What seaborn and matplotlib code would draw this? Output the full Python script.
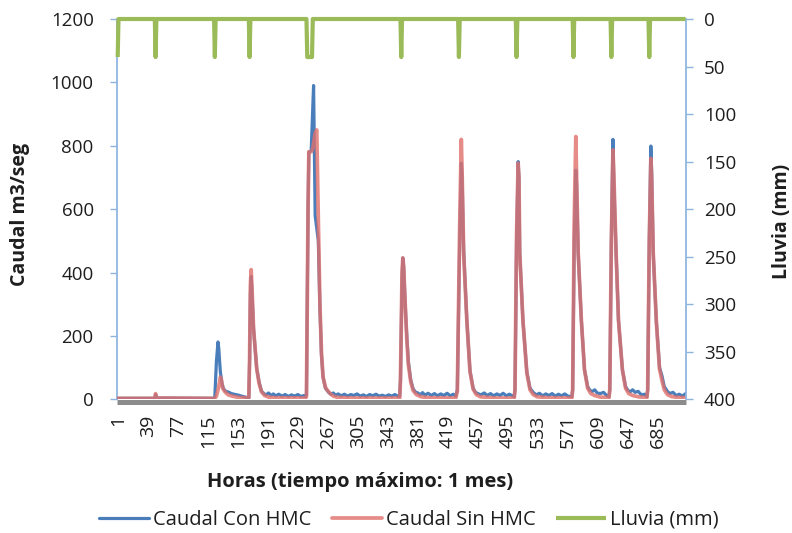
import numpy as np
import pandas as pd
import matplotlib
matplotlib.use("Agg")
import matplotlib.pyplot as plt
import seaborn as sns

# ---------------- data ----------------
n_hours = 720
tick_labels = list(range(1, 720, 38))  # 1, 39, ..., 685

# Caudal Con HMC (blue) : hour / value vertices
con_hours = [1, 48, 49, 50, 123, 124, 126, 128, 129, 130, 131, 133, 135, 138, 141, 145, 150, 154, 158, 164, 167,
             168, 169, 170, 171, 173, 177, 180, 183, 186, 189, 192, 195, 198, 201, 205, 209, 213, 217, 221, 225,
             229, 233, 237, 239,
             240, 242, 243, 246, 249, 251, 253, 255, 257, 259, 261, 264, 268, 271, 274, 277, 280, 284, 288, 292,
             296, 300, 304, 308, 312, 316, 320, 324, 328, 332, 336, 340, 344, 348, 352, 356, 358,
             359, 361, 362, 363, 365, 367, 369, 372, 375, 378, 381, 384, 387, 390, 394, 398, 402, 406, 410, 414,
             418, 422, 426, 429,
             431, 434, 436, 437, 439, 443, 447, 451, 454, 457, 461, 465, 469, 473, 477, 481, 485, 489, 493, 497,
             501, 503,
             504, 506, 508, 509, 510, 514, 519, 523, 527, 531, 535, 539, 543, 547, 551, 555, 559, 563, 567, 571, 576,
             577, 579, 581, 582, 584, 588, 592, 596, 599, 602, 605, 608, 612, 616, 620, 623,
             624, 626, 628, 629, 632, 635, 640, 644, 647, 650, 653, 656, 660, 664, 668, 671,
             672, 674, 676, 677, 679, 683, 687, 690, 693, 697, 700, 704, 708, 712, 716, 720]
con_values = [3, 3, 15, 4, 3, 10, 120, 181, 160, 120, 86, 50, 33, 25, 23, 18, 15, 13, 10, 6, 5,
              120, 330, 388, 340, 223, 97, 55, 26, 18, 14, 20, 12, 17, 11, 16, 10, 15, 9, 14, 10,
              15, 9, 12, 8,
              15, 600, 780, 785, 990, 580, 540, 500, 290, 140, 70, 35, 22, 16, 20, 12, 17, 11, 16, 10,
              15, 12, 17, 10, 14, 9, 15, 11, 16, 10, 13, 9, 14, 10, 15, 9, 10,
              60, 380, 446, 420, 300, 200, 118, 61, 33, 23, 20, 14, 21, 13, 19, 12, 18, 11, 17, 12,
              19, 11, 16, 10,
              30, 500, 745, 700, 470, 250, 90, 35, 22, 18, 14, 20, 12, 18, 11, 17, 12, 19, 11, 16,
              10, 8,
              30, 500, 750, 700, 462, 250, 86, 35, 22, 14, 19, 11, 17, 12, 18, 10, 16, 11, 17, 10, 8,
              30, 500, 723, 680, 462, 250, 93, 40, 28, 25, 30, 20, 18, 22, 12, 8,
              30, 500, 820, 700, 462, 250, 93, 40, 28, 24, 30, 22, 25, 14, 16, 8,
              30, 500, 799, 720, 462, 243, 100, 75, 40, 25, 18, 22, 12, 16, 10, 18]

# Caudal Sin HMC (red) : hour / value vertices
sin_hours = [1, 48, 49, 50, 124, 126, 129, 131, 132, 134, 137, 141, 146, 154, 167,
             168, 169, 170, 171, 173, 177, 180, 183, 187, 192, 200, 239,
             240, 242, 243, 246, 248, 251, 253, 255, 257, 259, 261, 264, 266, 270, 274, 280, 300, 358,
             359, 361, 362, 363, 365, 367, 369, 372, 375, 379, 385, 395, 429,
             431, 434, 436, 437, 439, 443, 447, 451, 455, 460, 470, 480, 503,
             504, 506, 508, 509, 510, 514, 519, 523, 527, 532, 545, 576,
             577, 579, 581, 582, 584, 588, 592, 596, 600, 605, 612, 623,
             624, 626, 628, 629, 632, 635, 640, 644, 648, 653, 660, 671,
             672, 674, 676, 677, 679, 683, 687, 690, 693, 697, 702, 710, 720]
sin_values = [3, 3, 18, 4, 3, 10, 40, 70, 65, 35, 23, 14, 10, 6, 4,
              130, 360, 409, 350, 223, 97, 50, 24, 12, 7, 5, 4,
              10, 600, 781, 781, 790, 840, 850, 566, 303, 146, 70, 38, 30, 18, 10, 6, 4, 4,
              60, 400, 446, 420, 300, 190, 110, 55, 28, 15, 8, 5, 4,
              25, 550, 820, 720, 460, 250, 88, 32, 15, 8, 6, 4, 4,
              30, 520, 745, 700, 462, 250, 83, 30, 15, 8, 5, 4,
              30, 560, 829, 700, 462, 250, 93, 35, 18, 12, 7, 5,
              30, 500, 787, 720, 462, 250, 93, 35, 18, 12, 8, 5,
              30, 500, 760, 700, 462, 243, 95, 60, 30, 15, 9, 6, 5]

# Lluvia (mm): hours with rain and amount
rain_hours = [1, 49, 124, 168, 241, 242, 243, 244, 245, 246, 247, 360, 433, 506, 578, 626, 674]
rain_amount = 40

# ---------------- build frames ----------------
df_con = pd.DataFrame({"Hora": con_hours, "Caudal": con_values})
df_sin = pd.DataFrame({"Hora": sin_hours, "Caudal": sin_values})
hours_all = np.arange(1, n_hours + 1)
rain = pd.Series(0.0, index=hours_all)
rain.loc[rain_hours] = rain_amount
df_rain = pd.DataFrame({"Hora": hours_all, "Lluvia": rain.values})

# ---------------- style ----------------
sns.set_theme(style="white")
plt.rcParams["font.family"] = ["Open Sans", "DejaVu Sans"]

W, H = 792, 533
fig = plt.figure(figsize=(W / 100, H / 100), dpi=100)
L, R, T, B = 117.3, 686.0, 19.0, 399.3
ax = fig.add_axes([L / W, 1 - B / H, (R - L) / W, (B - T) / H])
ax2 = ax.twinx()

blue = "#4A7EBB"
red = "#E0706B"
green = "#9BBB59"
spine_c = "#8DB3DF"
txt_c = "#1E1E1E"

# grey band along the bottom
ax.axhline(-9, color="#8C8C8C", lw=3.6, clip_on=False, zorder=1, solid_capstyle="butt")

sns.lineplot(data=df_con, x="Hora", y="Caudal", ax=ax, color=blue, lw=2.3,
             estimator=None, sort=False, label="Caudal Con HMC", zorder=3)
sns.lineplot(data=df_sin, x="Hora", y="Caudal", ax=ax, color=red, lw=2.7, alpha=0.8,
             estimator=None, sort=False, label="Caudal Sin HMC", zorder=4)
sns.lineplot(data=df_rain, x="Hora", y="Lluvia", ax=ax2, color=green, lw=3.0,
             estimator=None, sort=False, label="Lluvia (mm)", zorder=5)
for l in ax2.lines:
    l.set_clip_on(False)
    l.set_solid_capstyle("butt")

ax.set_xlim(0.5, n_hours + 0.5)
ax.set_ylim(0, 1200)
ax.set_yticks(np.arange(0, 1201, 200))
ax2.set_ylim(400, 0)
ax2.set_yticks(np.arange(0, 401, 50))
ax.set_xticks(tick_labels)
ax.set_xticklabels([str(t) for t in tick_labels], rotation=90)

ax.set_xlabel("")
ax.set_ylabel("")
ax2.set_ylabel("")

fs = 13.5
ax.tick_params(axis="y", direction="out", length=5, width=1, color=spine_c, pad=12,
               labelsize=fs, labelcolor=txt_c, left=True)
ax2.tick_params(axis="y", direction="out", length=5, width=1, color=spine_c, pad=8,
                labelsize=fs, labelcolor=txt_c, right=True)
ax.tick_params(axis="x", length=0, pad=11, labelsize=14, labelcolor=txt_c)

for a in (ax, ax2):
    a.spines["top"].set_visible(False)
    a.spines["bottom"].set_visible(False)
    a.spines["left"].set_color(spine_c)
    a.spines["right"].set_color(spine_c)
    a.grid(False)
ax.spines["right"].set_visible(False)
ax2.spines["left"].set_visible(False)

# legend
h1, l1 = ax.get_legend_handles_labels()
h2, l2 = ax2.get_legend_handles_labels()
for a in (ax, ax2):
    if a.get_legend() is not None:
        a.get_legend().remove()
fig.legend(h1 + h2, l1 + l2, loc="center", bbox_to_anchor=(409 / W, 1 - 520 / H), ncol=3,
           frameon=False, fontsize=14.5, handlelength=2.5, handletextpad=0.2,
           columnspacing=1.0, labelcolor=txt_c)

# axis titles
fig.text(360 / W, 1 - 482 / H, "Horas (tiempo máximo: 1 mes)", ha="center", va="center",
         fontsize=14.5, fontweight="bold", color=txt_c)
fig.text(20 / W, 1 - 214 / H, "Caudal m3/seg", ha="center", va="center", rotation=90,
         fontsize=14, fontweight="bold", color=txt_c)
fig.text(782 / W, 1 - 221 / H, "Lluvia (mm)", ha="center", va="center", rotation=90,
         fontsize=14, fontweight="bold", color=txt_c)

fig.savefig("out.png", dpi=100)
